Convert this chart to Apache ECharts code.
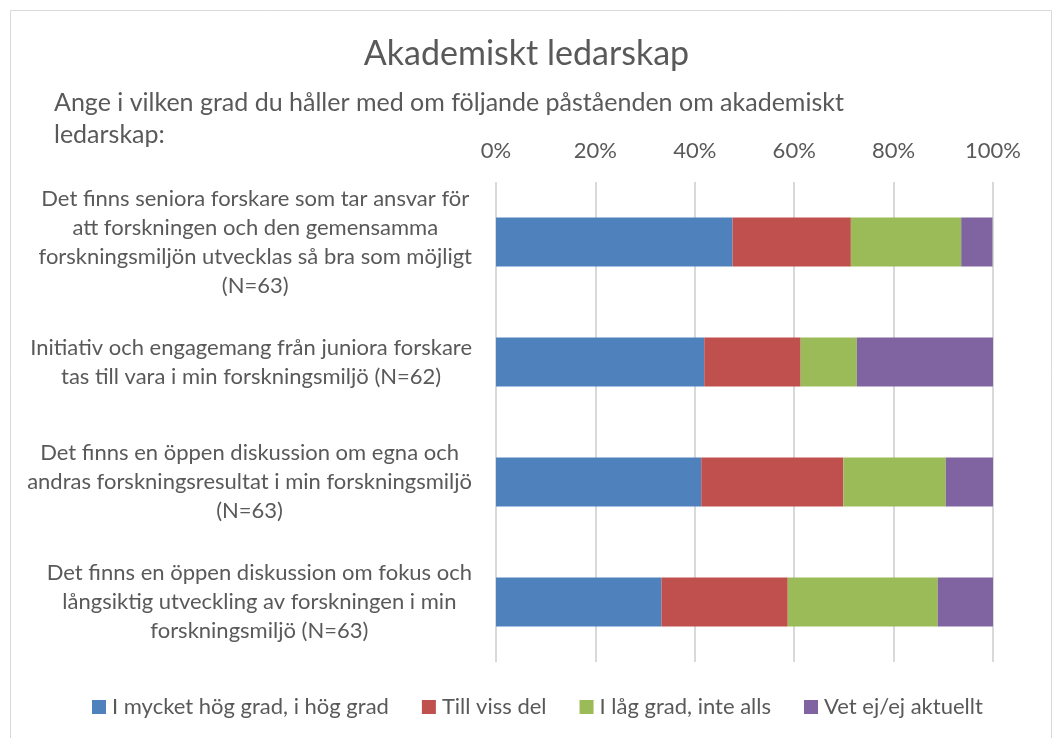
<!DOCTYPE html>
<html>
<head>
<meta charset="utf-8">
<script src="https://cdn.jsdelivr.net/npm/echarts@6/dist/echarts.min.js"></script>
<style>
  html, body { margin: 0; padding: 0; background: #fff; }
  #chart { width: 1053px; height: 738px; }
</style>
</head>
<body>
<div id="chart"></div>
<script>
// statements, wrapped as in the original
var categories = [
  'Det finns seniora forskare som tar ansvar för\natt forskningen och den gemensamma\nforskningsmiljön utvecklas så bra som möjligt\n(N=63)',
  'Initiativ och engagemang från juniora forskare\ntas till vara i min forskningsmiljö (N=62)',
  'Det finns en öppen diskussion om egna och\nandras forskningsresultat i min forskningsmiljö\n(N=63)',
  'Det finns en öppen diskussion om fokus och\nlångsiktig utveckling av forskningen i min\nforskningsmiljö (N=63)'
];
var seriesNames = ['I mycket hög grad, i hög grad', 'Till viss del', 'I låg grad, inte alls', 'Vet ej/ej aktuellt'];
// percent per statement
var highValues = [47.6, 41.9, 41.3, 33.3];
var someValues = [23.8, 19.4, 28.6, 25.4];
var lowValues = [22.2, 11.3, 20.6, 30.2];
var dontKnowValues = [6.3, 27.4, 9.5, 11.1];
var colors = ['#4F81BD', '#C0504D', '#9BBB59', '#8064A2'];

var FONT = 'Lato';
var TXT = '#595959';

var chart = echarts.init(document.getElementById('chart'));

function bar(name, data, i) {
  return {
    name: name,
    type: 'bar',
    stack: 'total',
    barWidth: 49,
    itemStyle: { color: colors[i] },
    data: data
  };
}

chart.setOption({
  animation: false,
  textStyle: { fontFamily: FONT },
  graphic: [{
    type: 'rect',
    shape: { x: 10.5, y: 10.5, width: 1041, height: 740 },
    style: { fill: 'none', stroke: '#d9d9d9', lineWidth: 1 }
  }],
  title: [{
    text: 'Akademiskt ledarskap',
    left: 'center',
    top: 37,
    padding: 0,
    textStyle: { fontFamily: FONT, fontSize: 34, fontWeight: 'normal', color: TXT }
  }, {
    text: 'Ange i vilken grad du håller med om följande påståenden om akademiskt\nledarskap:',
    left: 54,
    top: 87,
    padding: 0,
    textStyle: { fontFamily: FONT, fontSize: 25, fontWeight: 'normal', color: TXT, lineHeight: 32 }
  }],
  legend: {
    bottom: 15,
    left: 87,
    itemWidth: 14,
    itemHeight: 14,
    itemGap: 33,
    icon: 'rect',
    textStyle: { fontFamily: FONT, fontSize: 22, color: TXT, padding: [0, 0, 0, 1] },
    data: seriesNames
  },
  grid: { left: 496, right: 60, top: 182, bottom: 76 },
  xAxis: {
    type: 'value',
    position: 'top',
    min: 0,
    max: 100,
    interval: 20,
    axisLine: { show: false },
    axisTick: { show: false },
    splitLine: { lineStyle: { color: '#d9d9d9', width: 2 } },
    axisLabel: {
      formatter: '{value}%',
      margin: 20,
      fontFamily: FONT,
      fontSize: 22,
      color: TXT
    }
  },
  yAxis: {
    type: 'category',
    inverse: true,
    data: categories,
    axisLine: { show: false },
    axisTick: { show: false },
    axisLabel: {
      margin: 24,
      align: 'right',
      formatter: function (v) {
        return v.split('\n').map(function (l) { return '{c|' + l + '}'; }).join('\n');
      },
      rich: {
        c: { align: 'center', fontFamily: FONT, fontSize: 22, color: TXT, lineHeight: 29 }
      }
    }
  },
  series: [
    bar(seriesNames[0], highValues, 0),
    bar(seriesNames[1], someValues, 1),
    bar(seriesNames[2], lowValues, 2),
    bar(seriesNames[3], dontKnowValues, 3)
  ]
});
</script>
</body>
</html>
